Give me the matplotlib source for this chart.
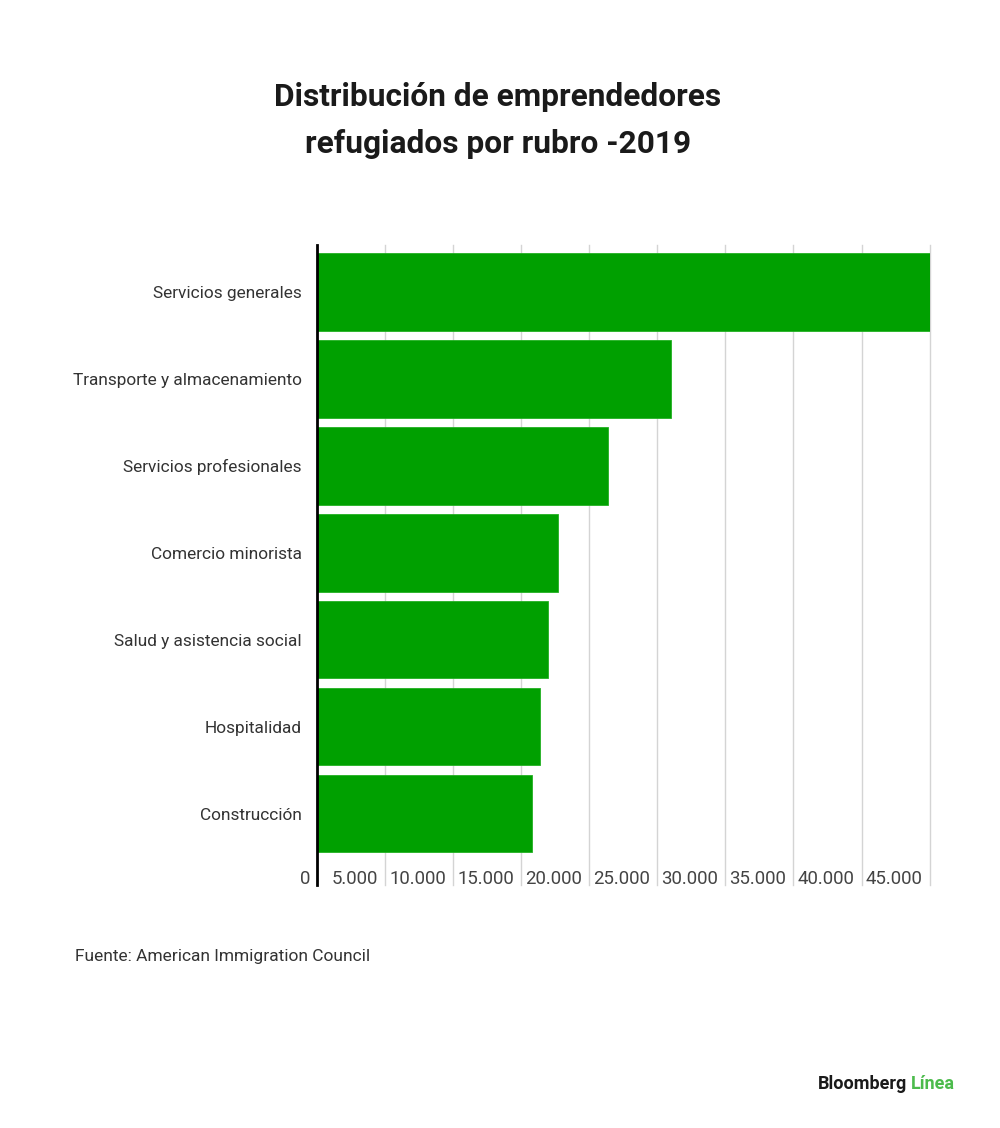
import matplotlib
matplotlib.use("Agg")
import matplotlib.pyplot as plt
import matplotlib.transforms as mtransforms

categories = ["Servicios generales", "Transporte y almacenamiento", "Servicios profesionales",
              "Comercio minorista", "Salud y asistencia social", "Hospitalidad", "Construcción"]
values = [45000, 26000, 21400, 17700, 17000, 16400, 15800]
ticks = [0, 5000, 10000, 15000, 20000, 25000, 30000, 35000, 40000, 45000]
tick_labels = ["0", "5.000", "10.000", "15.000", "20.000", "25.000", "30.000", "35.000", "40.000", "45.000"]

title = "Distribución de emprendedores\nrefugiados por rubro -2019"
source = "Fuente: American Immigration Council"

plt.rcParams['font.family'] = ['Roboto', 'DejaVu Sans']

fig = plt.figure(figsize=(10, 11.28), dpi=100)
fig.patch.set_facecolor("white")
ax = fig.add_axes([0.317, 1 - 885 / 1128, 0.6126, (885 - 245) / 1128])

ypos = list(range(len(categories)))
ax.barh(ypos, values, height=0.89, color="#00a000", edgecolor="#22b022", linewidth=0.6, zorder=2)
ax.set_ylim(6.82, -0.54)
ax.set_xlim(0, 45000)

for t in ticks[1:]:
    ax.axvline(t, color="#d4d4d4", linewidth=1, zorder=1, clip_on=False)

ax.set_yticks(ypos)
ax.set_yticklabels(categories, fontsize=12.4, color="#333333")
ax.tick_params(axis="y", length=0, pad=11)
ax.set_xticks([])

trans = mtransforms.blended_transform_factory(ax.transData, ax.transAxes)
offset = mtransforms.ScaledTranslation(-7 / 100, 0, fig.dpi_scale_trans)
for t, lab in zip(ticks, tick_labels):
    ax.text(t, 0.0095, lab, transform=trans + offset, ha="right", va="center",
            fontsize=13.4, color="#444444")

for s in ["top", "right", "bottom"]:
    ax.spines[s].set_visible(False)
ax.spines["left"].set_color("black")
ax.spines["left"].set_linewidth(2)
ax.spines["left"].set_zorder(3)

fig.text(0.498, 1 - 120.5 / 1128, title, ha="center", va="center", fontsize=22.8,
         fontweight="bold", color="#1a1a1a", linespacing=1.72)
fig.text(0.075, 1 - 957 / 1128, source, ha="left", va="center", fontsize=12.5, color="#333333")

t1 = fig.text(0.818, 1 - 1084 / 1128, "Bloomberg", ha="left", va="center", fontsize=13,
              fontweight="bold", color="#1a1a1a")
fig.canvas.draw()
bb = t1.get_window_extent()
fig.text((bb.x1 + 4) / 1000, 1 - 1084 / 1128, "Línea", ha="left", va="center", fontsize=13,
         fontweight="bold", color="#4cbb4c")

fig.savefig("out.png", dpi=100, facecolor="white")
